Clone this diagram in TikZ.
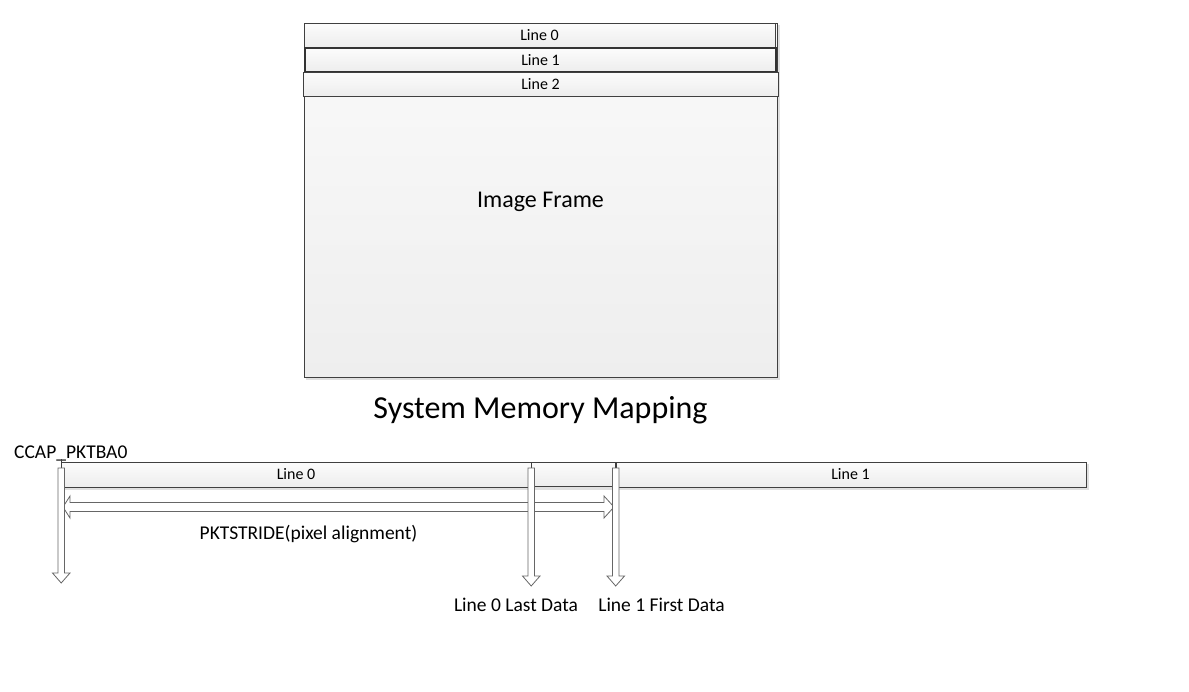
\documentclass[tikz,border=0pt]{standalone}
\usepackage{fontspec}
\setmainfont{Carlito}
\definecolor{edge}{HTML}{404040}
\definecolor{fillA}{HTML}{FCFCFC}
\definecolor{fillB}{HTML}{EDEDED}
\definecolor{frameA}{HTML}{FAFAFA}
\definecolor{frameB}{HTML}{EEEEEE}
\begin{document}
\begin{tikzpicture}[x=1pt,y=-1pt,
  bar/.style={draw=edge,line width=1pt,top color=fillA,bottom color=fillB},
  lbl/.style={font=\fontsize{16}{18}\selectfont,inner sep=0pt},
  olbl/.style={font=\fontsize{19.5}{22}\selectfont,inner sep=0pt},
  hollow/.style={draw=edge!80,line width=0.8pt,fill=white}]
\useasboundingbox (0,0) rectangle (1189,691);
% shadows
\fill[black!12] (306,25) rectangle (780,380);
\fill[black!12] (63,464) rectangle (1089,490);
% Image frame
\draw[draw=edge,line width=1pt,top color=frameA,bottom color=frameB] (304,23) rectangle (777,377);
\node[font=\fontsize{24}{28}\selectfont] (ftxt) at (540.5,201.5) {Image Frame};
% lines
\draw[bar] (304,23) rectangle (775,47) node[midway,lbl] (t0) {Line 0};
\draw[bar,line width=1.2pt,draw=edge!80!black] (305,48) rectangle (776,72) node[midway,lbl] (t1) {Line 1};
\draw[bar] (303,72) rectangle (778,96) node[midway,lbl] (t2) {Line 2};
\node[font=\fontsize{32}{36}\selectfont] (title) at (540.5,410) {System Memory Mapping};
% bottom bars
\draw[bar] (61,462) rectangle (531,487) node[midway,lbl] (b0) {Line 0};
\draw[bar] (531,462) rectangle (615,486);
\draw[bar] (615,462) rectangle (1086,487) node[midway,lbl] (b1) {Line 1};
\node[olbl,anchor=base west] (ccap) at (14,458) {CCAP\_PKTBA0};
% ticks
\coordinate (k0a) at (61,459); \coordinate (k0b) at (61,468);
\coordinate (k1a) at (531,462); \coordinate (k1b) at (531,468);
\coordinate (k2a) at (616,462); \coordinate (k2b) at (616,468);
\draw[edge,line width=0.8pt] (k0a) -- (k0b);
\draw[edge,line width=0.8pt] (k1a) -- (k1b);
\draw[edge,line width=0.8pt] (k2a) -- (k2b);
% horizontal double arrow
\draw[hollow] (63,507) -- (70,496) -- (70,502.5) -- (604,502.5) -- (604,496) -- (614,507) -- (604,518) -- (604,511.5) -- (70,511.5) -- (70,518) -- cycle;
% vertical arrows
\draw[hollow] (58,468) -- (64.5,468) -- (64.5,573) -- (70,573) -- (61.2,583) -- (52.5,573) -- (58,573) -- cycle;
\draw[hollow] (528,468) -- (534.5,468) -- (534.5,576) -- (540,576) -- (531.2,586) -- (522.5,576) -- (528,576) -- cycle;
\draw[hollow] (612.5,468) -- (619,468) -- (619,576) -- (624.5,576) -- (615.7,586) -- (607,576) -- (612.5,576) -- cycle;
\node[olbl] (stride) at (308.5,534.5) {PKTSTRIDE(pixel alignment)};
\node[olbl] (last) at (516,604.5) {Line 0 Last Data};
\node[olbl] (first) at (661.5,604.5) {Line 1 First Data};
\end{tikzpicture}
\end{document}
